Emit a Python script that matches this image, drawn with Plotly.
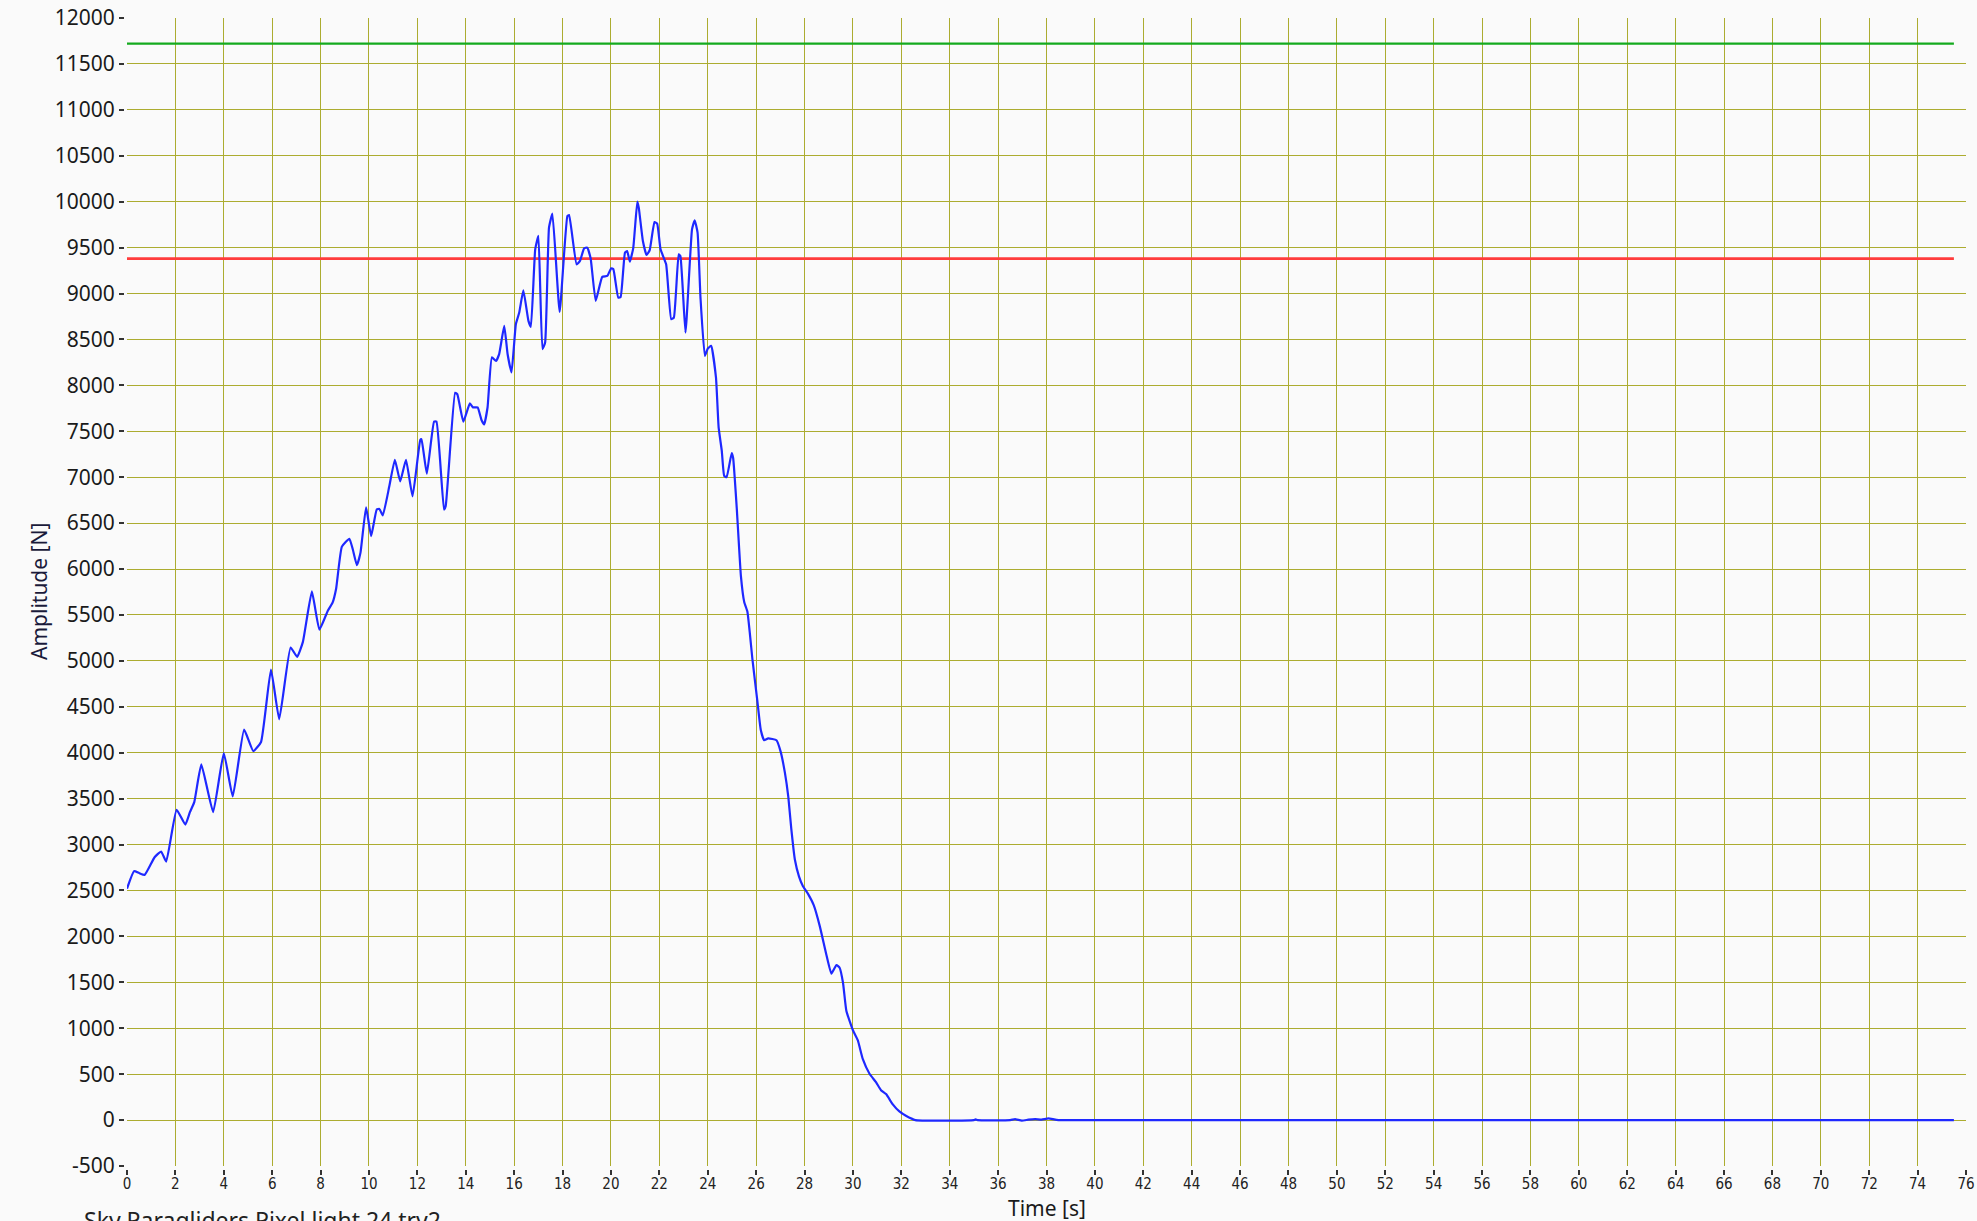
import plotly.graph_objects as go

# ---- data ----
time_s = [0.0, 0.29, 0.5, 0.73, 1.14, 1.41, 1.62, 2.05, 2.41, 2.6, 2.78, 3.07, 3.56, 4.0, 4.37,
          4.84, 5.22, 5.54, 5.95, 6.29, 6.76, 7.03, 7.27, 7.64, 7.95, 8.3, 8.5, 8.64, 8.88, 9.19,
          9.33, 9.5, 9.65, 9.88, 10.09, 10.32, 10.43, 10.57, 10.84, 11.07, 11.29, 11.53, 11.8,
          12.12, 12.17, 12.39, 12.69, 12.79, 13.1, 13.17, 13.56, 13.65, 13.9, 14.17, 14.3, 14.49,
          14.65, 14.76, 14.9, 15.08, 15.25, 15.38, 15.59, 15.73, 15.89, 16.07, 16.21, 16.38,
          16.59, 16.69, 16.87, 17.0, 17.17, 17.28, 17.44, 17.58, 17.88, 18.2, 18.27, 18.58,
          18.72, 18.89, 19.02, 19.16, 19.37, 19.64, 19.85, 20.01, 20.1, 20.3, 20.4, 20.58,
          20.67, 20.78, 20.92, 21.09, 21.15, 21.32, 21.47, 21.6, 21.8, 21.91, 22.05, 22.28,
          22.49, 22.6, 22.8, 22.87, 23.08, 23.35, 23.46, 23.58, 23.7, 23.88, 24.0, 24.14, 24.34,
          24.45, 24.58, 24.68, 24.78, 24.99, 25.05, 25.2, 25.37, 25.51, 25.64, 25.85, 26.05,
          26.19, 26.33, 26.5, 26.84, 27.01, 27.19, 27.33, 27.45, 27.6, 27.77, 27.93, 28.15,
          28.38, 28.63, 28.9, 29.11, 29.32, 29.45, 29.59, 29.73, 30.0, 30.2, 30.41, 30.68,
          30.96, 31.16, 31.37, 31.64, 31.92, 32.19, 32.58, 35.0, 35.07, 35.15, 36.5, 36.7,
          36.98, 37.25, 37.53, 37.8, 38.08, 38.5, 75.5]
amplitude_n = [2520, 2710, 2690, 2670, 2862, 2924, 2815, 3378, 3218, 3353, 3462, 3873, 3353, 3997,
               3524, 4251, 4018, 4117, 4905, 4364, 5146, 5044, 5207, 5756, 5340, 5547, 5637, 5782,
               6244, 6330, 6215, 6042, 6179, 6673, 6359, 6648, 6655, 6583, 6901, 7190, 6955, 7190,
               6792, 7406, 7413, 7038, 7605, 7605, 6648, 6684, 7919, 7904, 7605, 7803, 7760, 7760,
               7623, 7575, 7759, 8305, 8265, 8340, 8647, 8339, 8140, 8666, 8793, 9035, 8702, 8637,
               9481, 9627, 8394, 8466, 9717, 9869, 8800, 9844, 9855, 9318, 9355, 9492, 9500, 9384,
               8919, 9181, 9191, 9275, 9264, 8956, 8963, 9445, 9463, 9347, 9492, 10000, 9935,
               9572, 9420, 9471, 9779, 9761, 9481, 9318, 8720, 8738, 9427, 9409, 8575, 9699, 9797,
               9663, 8956, 8321, 8400, 8430, 8086, 7542, 7288, 7015, 7000, 7262, 7209, 6660, 5926,
               5638, 5534, 5010, 4565, 4251, 4136, 4157, 4136, 4015, 3780, 3518, 3178, 2837, 2654,
               2549, 2460, 2340, 2112, 1804, 1594, 1688, 1659, 1496, 1188, 978, 870, 663, 507, 410,
               326, 283, 174, 94, 47, 0, 0, 8, 0, 0, 10, -6, 4, 10, 6, 18, 0, 0]

line_span_s = [0.0, 75.5]
limit_green_n = 11720
limit_red_n = 9380

x_ticks = list(range(0, 77, 2))
y_ticks = list(range(-500, 12001, 500))

BG = "#fafafa"
GRID = "#acac30"

fig = go.Figure()
fig.add_trace(go.Scatter(x=line_span_s, y=[limit_green_n] * 2, mode="lines",
                         line=dict(color="#14aa1e", width=2.3), hoverinfo="skip"))
fig.add_trace(go.Scatter(x=line_span_s, y=[limit_red_n] * 2, mode="lines",
                         line=dict(color="#ff3c3c", width=2.8), hoverinfo="skip"))
fig.add_trace(go.Scatter(x=time_s, y=amplitude_n, mode="lines",
                         line=dict(color="#1e28ff", width=2.2, shape="spline", smoothing=0.4)))

fig.update_layout(
    width=1977, height=1221,
    margin=dict(l=127, r=11, t=18, b=55),
    paper_bgcolor=BG, plot_bgcolor=BG,
    showlegend=False,
    font=dict(family="Noto Sans, Open Sans, sans-serif", color="#1a1a1a"),
)
fig.update_xaxes(
    range=[0, 76], tickmode="array", tickvals=x_ticks, ticktext=[str(v) for v in x_ticks],
    showgrid=True, gridcolor=GRID, gridwidth=1, zeroline=False, automargin=False,
    showline=True, linecolor=BG, linewidth=4, layer="below traces",
    ticks="outside", ticklen=5, tickwidth=1.5, tickcolor="#333333", ticklabelstandoff=-4,
    tickfont=dict(family="DejaVu Sans Condensed, Liberation Sans Narrow, Roboto Condensed, Noto Sans",
                  size=15, color="#222222"),
)
fig.update_yaxes(
    range=[-500, 12000], tickmode="array", tickvals=y_ticks, ticktext=[str(v) for v in y_ticks],
    showgrid=True, gridcolor=GRID, gridwidth=1, zeroline=False, automargin=False,
    showline=True, linecolor=BG, linewidth=3, layer="below traces",
    ticks="outside", ticklen=5, tickwidth=1.5, tickcolor="#333333",
    tickfont=dict(family="Noto Sans, Open Sans, sans-serif", size=21, color="#1a1a1a"),
)

fig.add_annotation(text="Amplitude [N]", xref="paper", yref="paper", x=0, y=0.5,
                   xshift=-88, xanchor="center", yanchor="middle", textangle=-90,
                   showarrow=False, font=dict(size=21, color="#1a1a3a"))
fig.add_annotation(text="Time [s]", xref="paper", yref="paper", x=0.5, y=0,
                   yshift=-42, xanchor="center", yanchor="middle",
                   showarrow=False, font=dict(size=21, color="#1a1a1a"))
fig.add_annotation(text="Sky Paragliders Pixel light 24 try2", xref="paper", yref="paper",
                   x=0, y=0, xshift=-45, yshift=-36, xanchor="left", yanchor="top",
                   showarrow=False, font=dict(size=23, color="#222222"))

fig.write_html("out.html", config={"displayModeBar": False},
               post_script="document.body.style.margin='0';document.body.style.overflow='hidden';")
